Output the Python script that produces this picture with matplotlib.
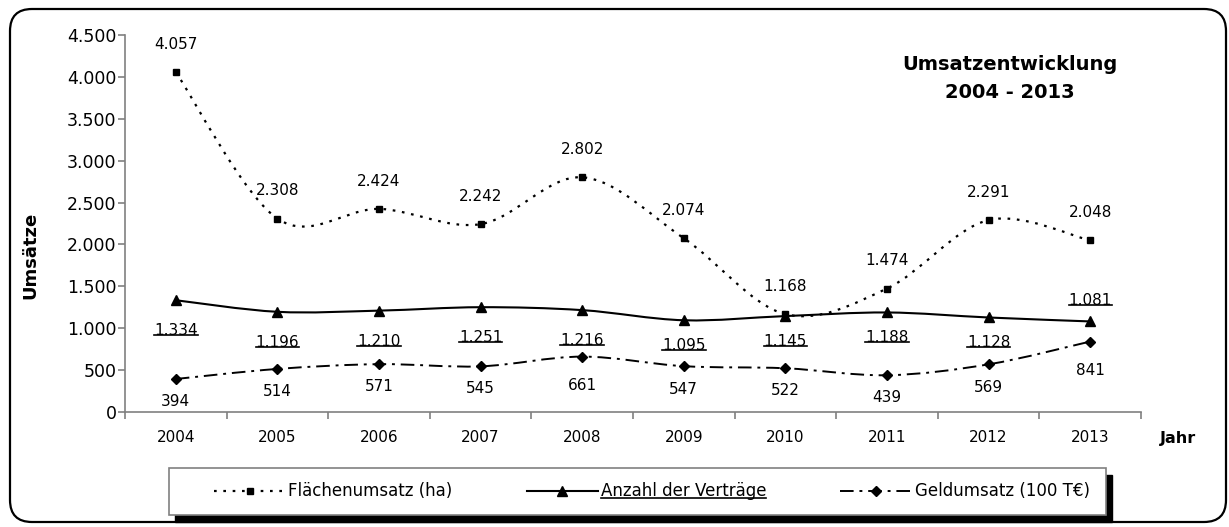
import numpy as np
import matplotlib
matplotlib.use("Agg")
import matplotlib.pyplot as plt
from matplotlib.path import Path
from matplotlib.patches import PathPatch, FancyBboxPatch, Rectangle
from matplotlib.lines import Line2D
from matplotlib.ticker import FixedLocator, FuncFormatter

plt.rcParams['font.family'] = ['DejaVu Sans']

jahre = ['2004', '2005', '2006', '2007', '2008', '2009', '2010', '2011', '2012', '2013']
flaeche = [4057, 2308, 2424, 2242, 2802, 2074, 1168, 1474, 2291, 2048]
vertraege = [1334, 1196, 1210, 1251, 1216, 1095, 1145, 1188, 1128, 1081]
geld = [394, 514, 571, 545, 661, 547, 522, 439, 569, 841]
y_ticks = [0, 500, 1000, 1500, 2000, 2500, 3000, 3500, 4000, 4500]
namen = ['Flächenumsatz (ha)', 'Anzahl der Verträge', 'Geldumsatz (100 T€)']


def smooth_path(xs, ys):
    # Excel-style smoothed line as cubic bezier segments
    pts = np.column_stack([xs, ys]).astype(float)
    n = len(pts)
    verts = [pts[0]]
    codes = [Path.MOVETO]
    for i in range(n - 1):
        p0 = pts[i - 1] if i > 0 else pts[i]
        p1 = pts[i]
        p2 = pts[i + 1]
        p3 = pts[i + 2] if i + 2 < n else pts[i + 1]
        verts += [p1 + (p2 - p0) / 6, p2 - (p3 - p1) / 6, p2]
        codes += [Path.CURVE4] * 3
    return Path(verts, codes)


def tsd(v):
    return '{:,.0f}'.format(v).replace(',', '.')


W, H = 1229, 527
fig = plt.figure(figsize=(W / 100, H / 100), dpi=100)
ax = fig.add_axes([125 / W, 1 - 412 / H, (1141 - 125) / W, (412 - 35) / H])

x = np.arange(len(jahre)) + 0.5

styles = [
    (flaeche, 's', (0, (1.2, 3.0)), 1.6, 5),
    (vertraege, '^', '-', 1.5, 7),
    (geld, 'D', (0, (7, 3, 1.5, 3)), 1.4, 5),
]

handles = []
for vals, mk, ls, lw, ms in styles:
    ax.add_patch(PathPatch(smooth_path(x, vals), fill=False, lw=lw,
                           linestyle=ls, edgecolor='black', zorder=2))
    ax.plot(x, vals, linestyle='none', marker=mk, ms=ms, color='black', zorder=3)
    handles.append(Line2D([], [], color='black', lw=lw, linestyle=ls,
                          marker=mk, ms=ms))

# label offsets (points) as placed in the original
off_v = [-22, -22, -22, -22, -22, -18, -18, -18, -18, 15]
off_g = [-16, -16, -16, -16, -21, -17, -16, -16, -17, -21]

lbl_size = 11
for xi, v in zip(x, flaeche):
    ax.annotate(tsd(v), (xi, v), xytext=(0, 20), textcoords='offset points',
                ha='center', va='center', fontsize=lbl_size)
under = []
for xi, v, dy in zip(x, vertraege, off_v):
    under.append(ax.annotate(tsd(v), (xi, v), xytext=(0, dy),
                             textcoords='offset points', ha='center',
                             va='center', fontsize=lbl_size))
for xi, v, dy in zip(x, geld, off_g):
    ax.annotate(tsd(v), (xi, v), xytext=(0, dy), textcoords='offset points',
                ha='center', va='center', fontsize=lbl_size)

ax.set_xlim(0, len(jahre))
ax.set_ylim(0, 4500)
ax.xaxis.set_major_locator(FixedLocator(np.arange(len(jahre) + 1)))
ax.xaxis.set_major_formatter(FuncFormatter(lambda v, p: ''))
ax.xaxis.set_minor_locator(FixedLocator(x))
ax.xaxis.set_minor_formatter(FuncFormatter(lambda v, p: jahre[int(v)]))
ax.set_yticks(y_ticks)
ax.set_yticklabels([tsd(v) for v in y_ticks])

for s in ['top', 'right']:
    ax.spines[s].set_visible(False)
for s in ['left', 'bottom']:
    ax.spines[s].set_color('#808080')
    ax.spines[s].set_linewidth(1.2)
ax.tick_params(axis='both', which='major', color='#808080', length=5,
               width=1.2, direction='out')
ax.tick_params(axis='y', pad=1, labelsize=12.5)
ax.tick_params(axis='x', which='minor', length=0, pad=13, labelsize=11)

fig.text(30 / W, 1 - 255 / H, 'Umsätze', rotation=90, ha='center',
         va='center', fontsize=13, fontweight='bold')
fig.text(1178 / W, 1 - 438 / H, 'Jahr', ha='center', va='center',
         fontsize=11.5, fontweight='bold')
fig.text(1010 / W, 1 - 79 / H, 'Umsatzentwicklung\n2004 - 2013', ha='center',
         va='center', fontsize=14, fontweight='bold', linespacing=1.6)

# legend box with hard shadow
lx0, lx1, ly0, ly1 = 169, 1106, 468, 515
fig.patches.append(Rectangle(((lx0 + 6) / W, 1 - (ly1 + 7) / H),
                             (lx1 - lx0) / W, (ly1 - ly0) / H,
                             transform=fig.transFigure, color='black', zorder=1))
fig.patches.append(Rectangle((lx0 / W, 1 - ly1 / H),
                             (lx1 - lx0) / W, (ly1 - ly0) / H,
                             transform=fig.transFigure, facecolor='white',
                             edgecolor='#808080', lw=1.2, zorder=2))
leg = fig.legend(handles, namen, loc='center left', ncol=3,
                 bbox_to_anchor=(214 / W, 1 - (ly0 + ly1) / 2 / H),
                 bbox_transform=fig.transFigure, borderaxespad=0, borderpad=0,
                 frameon=False, fontsize=12, handlelength=4.3,
                 handletextpad=0.15, columnspacing=4.45)
leg.set_zorder(6)

# outer rounded frame
fig.patches.append(FancyBboxPatch((10, 5), 1216, 513,
                                  boxstyle='round,pad=0,rounding_size=22',
                                  transform=None, fill=False, lw=1.6,
                                  edgecolor='black', zorder=0))

# underlines like the original
fig.canvas.draw()
r = fig.canvas.get_renderer()
for t in under + [leg.get_texts()[1]]:
    bb = t.get_window_extent(r)
    fig.lines.append(Line2D([bb.x0, bb.x1], [bb.y0 + 3, bb.y0 + 3],
                            transform=None, color='black', lw=1.2, zorder=10))

fig.savefig('out.png', dpi=100)
